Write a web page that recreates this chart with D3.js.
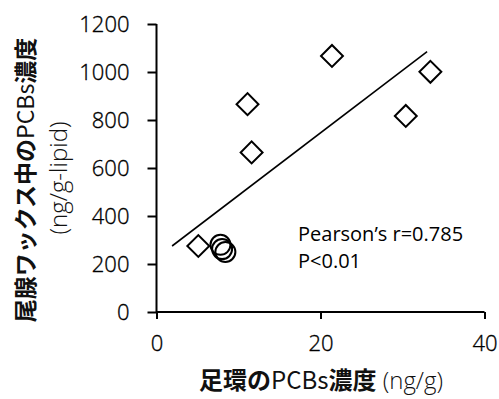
<!DOCTYPE html>
<html>
<head>
<meta charset="utf-8">
<script src="https://cdn.jsdelivr.net/npm/d3@7"></script>
<style>
  body { margin: 0; background: #fff; }
  svg { display: block; }
</style>
</head>
<body>
<svg id="chart"></svg>
<script>
// values
let diamondX = [5.1, 11.1, 11.6, 21.4, 30.4, 33.4]
let diamondY = [275, 866, 665, 1067, 817, 1001]
let circleX = [7.8, 8.0, 8.4]
let circleY = [280, 262, 250]
let trendX = [1.9, 33.0]
let trendY = [275, 1085]
let xTicks = [0, 20, 40]
let yTicks = [0, 200, 400, 600, 800, 1000, 1200]
let statLines = ["Pearson\u2019s r=0.785", "P<0.01"]

let width = 499
let height = 399
let svg = d3.select("#chart").attr("width", width).attr("height", height)

let X = d3.scaleLinear().domain([0, 40]).range([156.5, 484.5])
let Y = d3.scaleLinear().domain([0, 1200]).range([312, 24])

let numFont = "'Open Sans', sans-serif"
let cjkFont = "'Noto Sans CJK JP', sans-serif"

// y axis
let yaxis = d3.axisLeft(Y).tickValues(yTicks).tickSize(9).tickPadding(18).tickFormat(d3.format("d"))
let gy = svg.append("g").attr("transform", "translate(" + X(0) + ",0)").call(yaxis)
// x axis
let xaxis = d3.axisBottom(X).tickValues(xTicks).tickSize(7).tickPadding(16).tickFormat(d3.format("d"))
let gx = svg.append("g").attr("transform", "translate(0," + Y(0) + ")").call(xaxis)

for (let g of [gx, gy]) {
    g.select(".domain").attr("stroke", "#000").attr("stroke-width", 2)
    g.selectAll(".tick line").attr("stroke", "#000").attr("stroke-width", 2)
    g.selectAll(".tick text")
     .attr("fill", "#000")
     .attr("stroke", "#000")
     .attr("stroke-width", 0.35)
     .style("font-family", numFont)
     .style("font-weight", 300)
     .style("font-size", "22px")
}
gx.select(".domain").attr("d", "M" + X(0) + ",0H" + X(40))
gy.select(".domain").attr("d", "M0," + Y(1200) + "V" + Y(0))

// trend line
let line = d3.line().x(d => X(d[0])).y(d => Y(d[1]))
svg.append("path")
   .attr("fill", "none")
   .attr("stroke", "#000")
   .attr("stroke-width", 1.6)
   .attr("d", line(d3.zip(trendX, trendY)))

// diamonds
let diamond = d3.symbol().type(d3.symbolSquare).size(240)
svg.append("g").selectAll("path")
   .data(d3.zip(diamondX, diamondY))
   .enter()
   .append("path")
   .attr("d", diamond)
   .attr("transform", d => "translate(" + X(d[0]) + "," + Y(d[1]) + ") rotate(45)")
   .attr("fill", "#fff")
   .attr("stroke", "#000")
   .attr("stroke-width", 2)

// circles
svg.append("g").selectAll("circle")
   .data(d3.zip(circleX, circleY))
   .enter()
   .append("circle")
   .attr("cx", d => X(d[0]))
   .attr("cy", d => Y(d[1]))
   .attr("r", 10)
   .attr("fill", "none")
   .attr("stroke", "#000")
   .attr("stroke-width", 2)

// stats text
svg.append("g").selectAll("text")
   .data(statLines)
   .enter()
   .append("text")
   .attr("x", 298)
   .attr("y", (d, i) => 241 + i * 27)
   .style("font-family", numFont)
   .style("font-size", "20px")
   .attr("fill", "#000")
   .text(d => d)

// x title
let xt = svg.append("text")
   .attr("x", 321)
   .attr("y", 389)
   .attr("text-anchor", "middle")
   .style("font-family", cjkFont)
   .style("font-size", "24px")
   .attr("fill", "#111")
xt.append("tspan").style("font-weight", 700).text("足環の")
xt.append("tspan").style("font-weight", 400).text("PCBs")
xt.append("tspan").style("font-weight", 700).text("濃度")
xt.append("tspan").style("font-weight", 300).style("font-family", numFont).text(" (ng/g)")

// y title
let yt = svg.append("text")
   .attr("transform", "translate(34,180) rotate(-90)")
   .attr("text-anchor", "middle")
   .style("font-family", cjkFont)
   .style("font-size", "23px")
   .attr("fill", "#111")
yt.append("tspan").style("font-weight", 700).text("尾腺ワックス中の")
yt.append("tspan").style("font-weight", 400).text("PCBs")
yt.append("tspan").style("font-weight", 700).text("濃度")

svg.append("text")
   .attr("transform", "translate(67,178) rotate(-90)")
   .attr("text-anchor", "middle")
   .style("font-family", numFont)
   .style("font-weight", 300)
   .style("font-size", "24px")
   .attr("fill", "#111")
   .text("(ng/g-lipid)")
</script>
</body>
</html>
